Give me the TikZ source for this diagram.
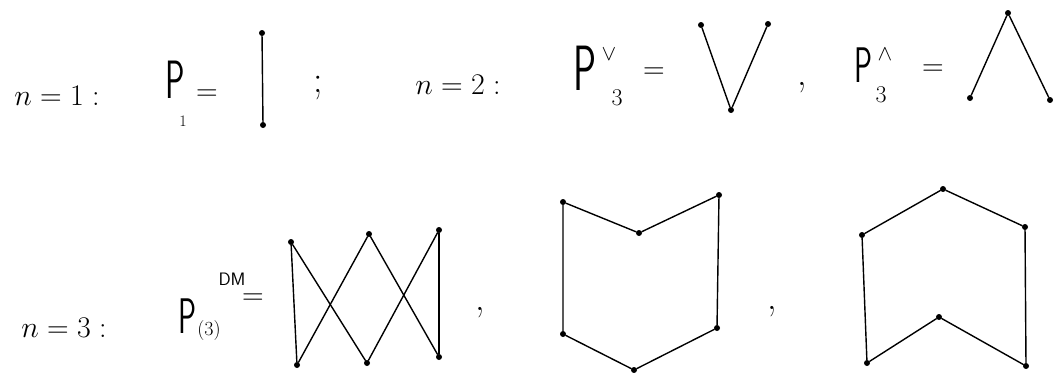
\RequirePackage{fix-cm}
\documentclass[tikz,border=0pt]{standalone}
\newcommand{\narrowP}{\scalebox{0.6}[1]{\sffamily P}}
\begin{document}
\begin{tikzpicture}[x=1pt,y=-1pt,
  dot/.style={circle,fill=black,inner sep=0pt,minimum size=6pt},
  edge/.style={line width=1.4pt,line cap=round,line join=round},
  txt/.style={inner sep=0pt,font=\fontsize{30}{34}\selectfont},
  punct/.style={inner sep=0pt,font=\fontsize{38}{42}\selectfont},
  Pa/.style={inner sep=0pt,font=\fontsize{54}{58}\selectfont},
  Pb/.style={inner sep=0pt,font=\fontsize{64}{68}\selectfont},
  Pc/.style={inner sep=0pt,font=\fontsize{50}{54}\selectfont},
  midtxt/.style={inner sep=0pt,font=\fontsize{24}{28}\selectfont},
  smalltxt/.style={inner sep=0pt,font=\fontsize{16}{19}\selectfont},
  optxt/.style={inner sep=0pt,font=\fontsize{22}{25}\selectfont},
  partxt/.style={inner sep=0pt,font=\fontsize{20}{23}\selectfont},
  suptxt/.style={inner sep=0pt,font=\fontsize{18}{21}\selectfont\sffamily}]
\useasboundingbox (0,0) rectangle (1054,372);
% ---------- row 1 ----------
\node[txt] (n1) at (57,96) {$n=1:$};
\node[Pa] (p1) at (175,80) {\narrowP};
\node[smalltxt] (s1) at (183,121) {1};
\node[txt] (e1) at (207,95) {$=$};
\node[dot] (a1) at (262,33) {};
\node[dot] (a2) at (263,125) {};
\draw[edge] (a1) -- (a2);
\node[punct] (sc) at (318,88) {;};
\node[txt] (n2) at (458,85) {$n=2:$};
\node[Pb] (p2) at (585,68) {\narrowP};
\node[optxt] (v) at (609,54) {$\vee$};
\node[midtxt] (s2) at (617,98) {3};
\node[txt] (e2) at (654,73) {$=$};
\node[dot] (v1) at (701,25) {};
\node[dot] (v2) at (768,24) {};
\node[dot] (v3) at (731,110) {};
\draw[edge] (v1) -- (v3) -- (v2);
\node[punct] (c1) at (802,88) {,};
\node[Pc] (p3) at (863,65) {\narrowP};
\node[optxt] (w) at (885,54) {$\wedge$};
\node[midtxt] (s3) at (881,95) {3};
\node[txt] (e3) at (933,70) {$=$};
\node[dot] (w1) at (1008,13) {};
\node[dot] (w2) at (970,98) {};
\node[dot] (w3) at (1050,100) {};
\draw[edge] (w2) -- (w1) -- (w3);
% ---------- row 2 ----------
\node[txt] (n3) at (64,328) {$n=3:$};
\node[Pc] (p4) at (187,316) {\narrowP};
\node[suptxt] (dm) at (232,279) {DM};
\node[partxt] (s4) at (209,331) {(3)};
\node[txt] (e4) at (253,299) {$=$};
\node[dot] (t1) at (291,242) {};
\node[dot] (t2) at (369,234) {};
\node[dot] (t3) at (439,230) {};
\node[dot] (b1) at (297,365) {};
\node[dot] (b2) at (367,363) {};
\node[dot] (b3) at (439,357) {};
\draw[edge] (t1) -- (b1);
\draw[edge] (t1) -- (b2);
\draw[edge] (t2) -- (b1);
\draw[edge] (t2) -- (b3);
\draw[edge] (t3) -- (b2);
\draw[edge] (t3) -- (b3);
\node[punct] (c2) at (480,313) {,};
% hexagon 1
\node[dot] (h1) at (563,202) {};
\node[dot] (h2) at (639,233) {};
\node[dot] (h3) at (719,195) {};
\node[dot] (h4) at (563,334) {};
\node[dot] (h5) at (634,370) {};
\node[dot] (h6) at (717,328) {};
\draw[edge] (h1) -- (h2) -- (h3);
\draw[edge] (h1) -- (h4) -- (h5) -- (h6) -- (h3);
\node[punct] (c3) at (772,312) {,};
% hexagon 2
\node[dot] (g1) at (943,189) {};
\node[dot] (g2) at (862,235) {};
\node[dot] (g3) at (1025,227) {};
\node[dot] (g4) at (867,363) {};
\node[dot] (g5) at (939,317) {};
\node[dot] (g6) at (1026,366) {};
\draw[edge] (g2) -- (g1) -- (g3);
\draw[edge] (g2) -- (g4) -- (g5) -- (g6) -- (g3);
\end{tikzpicture}
\end{document}
